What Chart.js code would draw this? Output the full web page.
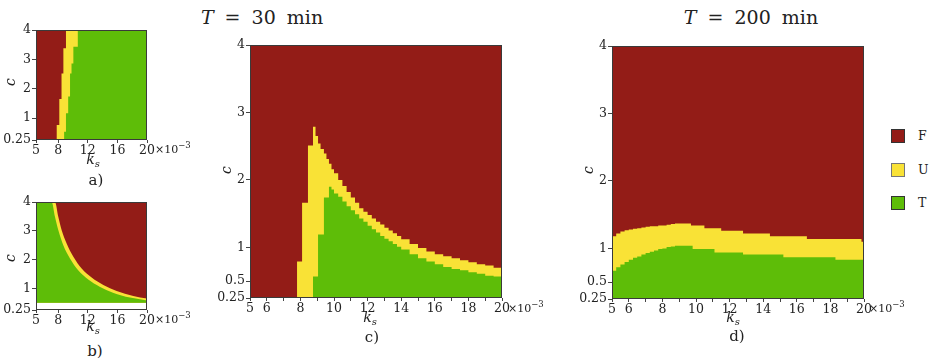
<!DOCTYPE html>
<html>
<head>
<meta charset="utf-8">
<script src="https://cdn.jsdelivr.net/npm/chart.js@4.4.0/dist/chart.umd.min.js"></script>
<style>
  html, body { margin: 0; padding: 0; background: #fff; }
  body { width: 938px; height: 361px; position: relative; overflow: hidden;
         font-family: 'DejaVu Serif', serif; color: #222; }
  canvas { position: absolute; }
  .lbl { position: absolute; white-space: nowrap; line-height: 1; transform: translate(-50%, -50%); }
  .rot { transform: translate(-50%, -50%) rotate(-90deg); }
  .title { font-size: 19px; word-spacing: 5px; }
  .axis { font-size: 14px; }
  .axis sub { font-size: 10px; vertical-align: -3px; }
  .tag { font-size: 15px; }
  .exp { position: absolute; white-space: nowrap; font-size: 11px; line-height: 1; transform: translateY(-50%); }
  .exp sup { font-size: 8.5px; vertical-align: 5px; }
  .key { position: absolute; width: 12px; height: 12px; border: 1px solid #333; }
  .keytxt { position: absolute; font-size: 12.5px; line-height: 1; transform: translateY(-50%); }
</style>
</head>
<body>

<div class="lbl title" style="left:262px; top:17px;"><i>T</i> = 30 min</div>
<div class="lbl title" style="left:751px; top:17px;"><i>T</i> = 200 min</div>

<canvas id="chartA"></canvas>
<canvas id="chartB"></canvas>
<canvas id="chartC"></canvas>
<canvas id="chartD"></canvas>

<div class="lbl axis rot" style="left:10px; top:82px;"><i>c</i></div>
<div class="lbl axis rot" style="left:10px; top:258px;"><i>c</i></div>
<div class="lbl axis rot" style="left:226px; top:170px;"><i>c</i></div>
<div class="lbl axis rot" style="left:588px; top:170px;"><i>c</i></div>

<div class="lbl axis" style="left:93px; top:160px;"><i>k</i><sub><i>s</i></sub></div>
<div class="lbl axis" style="left:93px; top:327px;"><i>k</i><sub><i>s</i></sub></div>
<div class="lbl axis" style="left:370px; top:318px;"><i>k</i><sub><i>s</i></sub></div>
<div class="lbl axis" style="left:733px; top:318px;"><i>k</i><sub><i>s</i></sub></div>

<div class="exp" style="left:155px; top:148px;">×10<sup>−3</sup></div>
<div class="exp" style="left:155px; top:318px;">×10<sup>−3</sup></div>
<div class="exp" style="left:508px; top:307px;">×10<sup>−3</sup></div>
<div class="exp" style="left:869px; top:307px;">×10<sup>−3</sup></div>

<div class="lbl tag" style="left:96px; top:180px;">a)</div>
<div class="lbl tag" style="left:95px; top:351px;">b)</div>
<div class="lbl tag" style="left:372px; top:337px;">c)</div>
<div class="lbl tag" style="left:737px; top:336px;">d)</div>

<div id="legend"></div>

<script>
// ==========================================
// DATA
// ==========================================

// outcome states: F (red), U (yellow), T (green)
const stateLabels = ['F', 'U', 'T'];

// axis ticks
const ticksSmallX = [5, 8, 12, 16, 20];
const ticksSmallY = [0.25, 1, 2, 3, 4];
const ticksBigX = [5, 6, 7, 8, 9, 10, 11, 12, 13, 14, 15, 16, 17, 18, 19, 20];
const labelsBigX = [5, 6, 8, 10, 12, 14, 16, 18, 20];
const ticksBigY = [0.25, 0.5, 1, 2, 3, 4];

// a) boundaries as step functions of ks (x 10^-3): upper = top of U, lower = top of T
const ksA    = [5, 7.8, 8.15, 8.45, 8.7, 8.8, 9.05, 9.35, 9.6, 9.8, 10.05, 10.65, 20];
const upperA = [0.25, 0.76, 1.65, 2.52, 3.38, 3.38, 4, 4, 4, 4, 4, 4, 4];
const lowerA = [0.25, 0.25, 0.25, 0.25, 0.25, 0.53, 1.16, 1.73, 2.52, 2.86, 3.43, 4, 4];

// b) smooth boundaries
const ksUpperB = [5, 7.57, 8.02, 8.47, 9.14, 10.05, 11.17, 12.52, 14.1, 15.9, 18.15, 20];
const cUpperB  = [4, 4, 3.48, 3.02, 2.56, 2.10, 1.69, 1.38, 1.12, 0.91, 0.74, 0.65];
const ksLowerB = [5, 7.12, 7.57, 8.02, 8.69, 9.59, 10.7, 12.06, 13.6, 15.4, 17.7, 20];
const cLowerB  = [4, 4, 3.48, 3.02, 2.5, 2.04, 1.63, 1.31, 1.06, 0.85, 0.68, 0.58];

// c) T = 30 min, step functions
const ksC = [5, 7.8, 8.1, 8.45, 8.75, 8.9, 9.05, 9.2, 9.4, 9.55, 9.7, 9.85, 10, 10.25, 10.5, 10.75,
             11, 11.25, 11.5, 11.75, 12, 12.25, 12.5, 12.75, 13, 13.25, 13.5, 13.75, 14, 14.5,
             15, 15.5, 16, 16.5, 17, 17.5, 18, 18.5, 19, 19.5, 20];
const upperC = [0.25, 0.79, 1.66, 2.51, 2.79, 2.65, 2.54, 2.46, 2.39, 2.31, 2.24, 2.16, 2.10, 2.00, 1.91, 1.82,
                1.74, 1.66, 1.58, 1.53, 1.48, 1.43, 1.38, 1.34, 1.29, 1.25, 1.21, 1.17, 1.12, 1.05,
                0.99, 0.94, 0.90, 0.87, 0.84, 0.81, 0.78, 0.75, 0.73, 0.70, 0.68];
const lowerC = [0.25, 0.25, 0.25, 0.25, 0.57, 0.57, 1.19, 1.19, 1.74, 1.74, 1.90, 1.86, 1.80, 1.75, 1.68, 1.61,
                1.55, 1.49, 1.43, 1.38, 1.32, 1.27, 1.22, 1.17, 1.13, 1.09, 1.05, 1.01, 0.97, 0.90,
                0.84, 0.79, 0.75, 0.71, 0.68, 0.66, 0.63, 0.61, 0.58, 0.57, 0.57];

// d) T = 200 min, step functions
const ksD = [5, 5.25, 5.5, 5.75, 6, 6.25, 6.5, 6.75, 7, 7.25, 7.5, 7.75, 8, 8.25, 8.5, 8.75,
             9.7, 9.8, 10.5, 11.1, 11.5, 12.8, 14.4, 15.2, 16.6, 18.3, 19.85, 20];
const upperD = [1.18, 1.22, 1.25, 1.27, 1.28, 1.29, 1.30, 1.31, 1.32, 1.33, 1.33, 1.34, 1.34, 1.35, 1.36, 1.37,
                1.34, 1.34, 1.30, 1.30, 1.26, 1.22, 1.18, 1.18, 1.14, 1.14, 1.10, 1.10];
const lowerD = [0.67, 0.72, 0.76, 0.80, 0.83, 0.86, 0.88, 0.91, 0.93, 0.95, 0.97, 0.99, 1.00, 1.02, 1.03, 1.04,
                1.04, 0.99, 0.99, 0.94, 0.94, 0.91, 0.91, 0.87, 0.87, 0.83, 0.83, 0.83];

// ==========================================
// STYLE
// ==========================================

const RED = '#931c17';
const YELLOW = '#f9e236';
const GREEN = '#5ebd08';
const stateColors = [RED, YELLOW, GREEN];

const AXW = 46, AXH = 24, PADT = 9, PADR = 14;

Chart.defaults.font.family = "'DejaVu Serif', serif";
Chart.defaults.font.size = 12.5;
Chart.defaults.color = '#222';

function zip(xs, ys) {
    return xs.map((x, i) => ({ x: x, y: ys[i] }));
}

// thin dark frame around the plot area
const framePlugin = {
    id: 'frame',
    afterDatasetsDraw(chart) {
        const { ctx, chartArea: a } = chart;
        ctx.save();
        ctx.strokeStyle = '#3a3a3a';
        ctx.lineWidth = 1;
        ctx.strokeRect(a.left + 0.5, a.top + 0.5, a.right - a.left - 1, a.bottom - a.top - 1);
        ctx.restore();
    }
};

function area(label, data, color, stepped, base) {
    return {
        label: label,
        data: data,
        backgroundColor: color,
        borderColor: color,
        borderWidth: 0,
        pointRadius: 0,
        stepped: stepped,
        cubicInterpolationMode: stepped ? 'default' : 'monotone',
        fill: base === undefined ? 'start' : { value: base }
    };
}

function makePanel(id, box, xTicks, xLabels, yTicks, datasets) {
    const cv = document.getElementById(id);
    const w = box.right - box.left, h = box.bottom - box.top;
    cv.width = AXW + w + PADR;
    cv.height = PADT + h + AXH;
    cv.style.left = (box.left - AXW) + 'px';
    cv.style.top = (box.top - PADT) + 'px';

    new Chart(cv, {
        type: 'line',
        data: { datasets: datasets },
        options: {
            responsive: false,
            animation: false,
            devicePixelRatio: 1,
            layout: { padding: { top: PADT, right: PADR, left: 0, bottom: 0 } },
            plugins: { legend: { display: false }, tooltip: { enabled: false } },
            scales: {
                x: {
                    type: 'linear', min: 5, max: 20,
                    afterBuildTicks: s => { s.ticks = xTicks.map(v => ({ value: v })); },
                    afterFit: s => { s.height = AXH; s.paddingLeft = 0; s.paddingRight = 0; },
                    ticks: {
                        autoSkip: false, maxRotation: 0, padding: 0,
                        callback: v => xLabels.includes(v) ? String(v) : ''
                    },
                    grid: { drawOnChartArea: false, tickLength: 3, color: '#444' },
                    border: { display: false }
                },
                y: {
                    type: 'linear', min: 0.25, max: 4,
                    afterBuildTicks: s => { s.ticks = yTicks.map(v => ({ value: v })); },
                    afterFit: s => { s.width = AXW; s.paddingTop = 0; s.paddingBottom = 0; },
                    ticks: { autoSkip: false, padding: 1, callback: v => String(v) },
                    grid: { drawOnChartArea: false, tickLength: 4, color: '#444' },
                    border: { display: false }
                }
            }
        },
        plugins: [framePlugin]
    });
}

// ==========================================
// PANELS
// ==========================================

// draw order: first dataset on top
makePanel('chartA', { left: 36, top: 30, right: 147, bottom: 140 }, ticksSmallX, ticksSmallX, ticksSmallY, [
    area('T', zip(ksA, lowerA), GREEN, true),
    area('U', zip(ksA, upperA), YELLOW, true),
    area('F', zip([5, 20], [4, 4]), RED, true)
]);

makePanel('chartB', { left: 36, top: 202, right: 147, bottom: 310 }, ticksSmallX, ticksSmallX, ticksSmallY, [
    area('T', zip(ksLowerB, cLowerB), GREEN, false, 0.5),
    area('U', zip(ksUpperB, cUpperB), YELLOW, false, 0.5),
    area('F', zip([5, 20], [4, 4]), RED, false, 0.5)
]);

makePanel('chartC', { left: 250, top: 45, right: 502, bottom: 298 }, ticksBigX, labelsBigX, ticksBigY, [
    area('T', zip(ksC, lowerC), GREEN, true),
    area('U', zip(ksC, upperC), YELLOW, true),
    area('F', zip([5, 20], [4, 4]), RED, true)
]);

makePanel('chartD', { left: 612, top: 46, right: 864, bottom: 299 }, ticksBigX, labelsBigX, ticksBigY, [
    area('T', zip(ksD, lowerD), GREEN, true),
    area('U', zip(ksD, upperD), YELLOW, true),
    area('F', zip([5, 20], [4, 4]), RED, true)
]);

// ==========================================
// LEGEND
// ==========================================

const legend = document.getElementById('legend');
stateLabels.forEach((txt, i) => {
    const top = 129 + i * 33.5;
    const sq = document.createElement('div');
    sq.className = 'key';
    sq.style.left = '891px';
    sq.style.top = top + 'px';
    sq.style.background = stateColors[i];
    if (i === 1) sq.style.borderColor = '#777';
    legend.appendChild(sq);
    const t = document.createElement('div');
    t.className = 'keytxt';
    t.style.left = '918px';
    t.style.top = (top + 7) + 'px';
    t.textContent = txt;
    legend.appendChild(t);
});
</script>
</body>
</html>
